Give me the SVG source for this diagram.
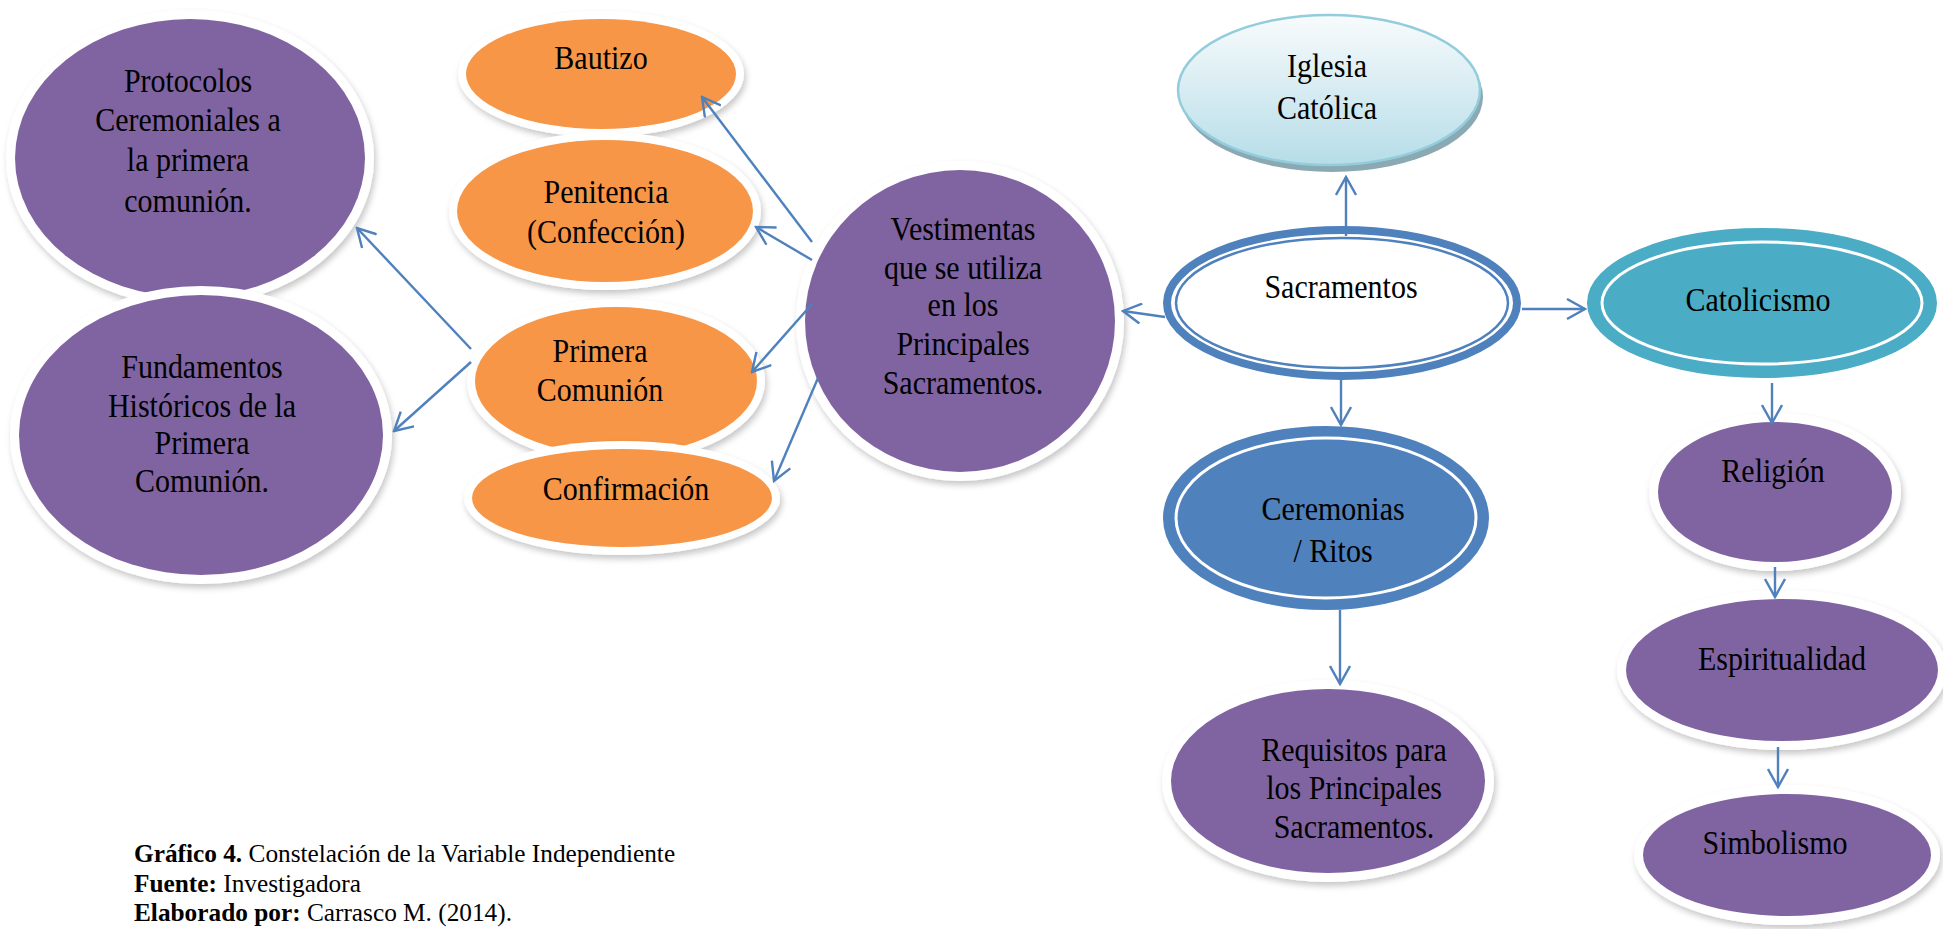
<svg xmlns="http://www.w3.org/2000/svg" width="1943" height="929" viewBox="0 0 1943 929">
<defs>
<filter id="sh" x="-20%" y="-20%" width="140%" height="140%">
<feDropShadow dx="2" dy="4" stdDeviation="3" flood-color="#000" flood-opacity="0.22"/>
</filter>
<linearGradient id="ig" x1="0" y1="0" x2="0" y2="1">
<stop offset="0" stop-color="#F8FBFC"/>
<stop offset="1" stop-color="#B6DDE8"/>
</linearGradient>
<marker id="ah" viewBox="0 0 22 22" refX="20" refY="11" markerWidth="22" markerHeight="22" markerUnits="userSpaceOnUse" orient="auto">
<path d="M2,1 L20,11 L2,21" fill="none" stroke="#4F81BD" stroke-width="2.4"/>
</marker>
<style>
.t{font-family:"Liberation Serif","Times New Roman",serif;font-size:30px;fill:#000;text-anchor:middle}
.halo{fill:#fff;filter:url(#sh)}
.pur{fill:#8064A2}
.org{fill:#F79646}
.c{fill:none;stroke:#4F81BD;stroke-width:2.4;marker-end:url(#ah)}
.cap{font-family:"Liberation Serif","Times New Roman",serif;font-size:25.3px;fill:#000}
</style>
</defs>

<g id="protocolos">
<ellipse class="halo" cx="190" cy="158" rx="184" ry="148"/>
<ellipse class="pur" cx="190" cy="158" rx="175" ry="139"/>
<text class="t" transform="translate(188,92) scale(1,1.1)">Protocolos</text>
<text class="t" transform="translate(188,131) scale(1,1.1)">Ceremoniales a</text>
<text class="t" transform="translate(188,171) scale(1,1.1)">la primera</text>
<text class="t" transform="translate(188,212) scale(1,1.1)">comunión.</text>
</g>

<g id="fundamentos">
<ellipse class="halo" cx="201" cy="435" rx="191" ry="149"/>
<ellipse class="pur" cx="201" cy="435" rx="182" ry="140"/>
<text class="t" transform="translate(202,378) scale(1,1.1)">Fundamentos</text>
<text class="t" transform="translate(202,417) scale(1,1.1)">Históricos de la</text>
<text class="t" transform="translate(202,454) scale(1,1.1)">Primera</text>
<text class="t" transform="translate(202,492) scale(1,1.1)">Comunión.</text>
</g>

<g id="bautizo">
<ellipse class="halo" cx="601" cy="74" rx="143" ry="63"/>
<ellipse class="org" cx="601" cy="74" rx="135" ry="55"/>
<text class="t" transform="translate(601,69) scale(1,1.1)">Bautizo</text>
</g>

<g id="penitencia">
<ellipse class="halo" cx="605" cy="211" rx="156" ry="79"/>
<ellipse class="org" cx="605" cy="211" rx="148" ry="71"/>
<text class="t" transform="translate(606,203) scale(1,1.1)">Penitencia</text>
<text class="t" transform="translate(606,243) scale(1,1.1)">(Confección)</text>
</g>

<g id="primera">
<ellipse class="halo" cx="616" cy="381" rx="149" ry="82"/>
<ellipse class="org" cx="616" cy="381" rx="141" ry="74"/>
<text class="t" transform="translate(600,362) scale(1,1.1)">Primera</text>
<text class="t" transform="translate(600,401) scale(1,1.1)">Comunión</text>
</g>

<g id="confirmacion">
<ellipse class="halo" cx="622" cy="498" rx="158" ry="57"/>
<ellipse class="org" cx="622" cy="498" rx="150" ry="49"/>
<text class="t" transform="translate(626,500) scale(1,1.1)">Confirmación</text>
</g>

<g id="vestimentas">
<ellipse class="halo" cx="960" cy="321" rx="164" ry="160"/>
<ellipse class="pur" cx="960" cy="321" rx="155" ry="151"/>
<text class="t" transform="translate(963,240) scale(1,1.1)">Vestimentas</text>
<text class="t" transform="translate(963,279) scale(1,1.1)">que se utiliza</text>
<text class="t" transform="translate(963,316) scale(1,1.1)">en los</text>
<text class="t" transform="translate(963,355) scale(1,1.1)">Principales</text>
<text class="t" transform="translate(963,394) scale(1,1.1)">Sacramentos.</text>
</g>

<g id="iglesia">
<ellipse cx="1332" cy="97" rx="151" ry="75" fill="#8AA9B2"/>
<ellipse cx="1329" cy="90" rx="151" ry="75" fill="url(#ig)" stroke="#93CDDD" stroke-width="2.5"/>
<text class="t" transform="translate(1327,77) scale(1,1.1)">Iglesia</text>
<text class="t" transform="translate(1327,119) scale(1,1.1)">Católica</text>
</g>

<g id="sacramentos">
<ellipse cx="1342" cy="303" rx="175" ry="73" fill="#fff" stroke="#4F81BD" stroke-width="8"/>
<ellipse cx="1342" cy="303" rx="166" ry="65" fill="none" stroke="#4F81BD" stroke-width="2.5"/>
<text class="t" transform="translate(1341,298) scale(1,1.1)">Sacramentos</text>
</g>

<g id="catolicismo">
<ellipse cx="1762" cy="303" rx="170" ry="70" fill="#4BACC6" stroke="#4BACC6" stroke-width="10"/>
<ellipse cx="1762" cy="303" rx="160" ry="61" fill="none" stroke="#fff" stroke-width="3"/>
<text class="t" transform="translate(1758,311) scale(1,1.1)">Catolicismo</text>
</g>

<g id="ceremonias">
<ellipse cx="1326" cy="518" rx="159" ry="88" fill="#4F81BD" stroke="#4F81BD" stroke-width="8"/>
<ellipse cx="1326" cy="518" rx="150" ry="80" fill="none" stroke="#fff" stroke-width="3"/>
<text class="t" transform="translate(1333,520) scale(1,1.1)">Ceremonias</text>
<text class="t" transform="translate(1333,562) scale(1,1.1)">/ Ritos</text>
</g>

<g id="requisitos">
<ellipse class="halo" cx="1328" cy="781" rx="166" ry="101"/>
<ellipse class="pur" cx="1328" cy="781" rx="157" ry="92"/>
<text class="t" transform="translate(1354,761) scale(1,1.1)">Requisitos para</text>
<text class="t" transform="translate(1354,799) scale(1,1.1)">los Principales</text>
<text class="t" transform="translate(1354,838) scale(1,1.1)">Sacramentos.</text>
</g>

<g id="religion">
<ellipse class="halo" cx="1775" cy="492" rx="126" ry="79"/>
<ellipse class="pur" cx="1775" cy="492" rx="117" ry="70"/>
<text class="t" transform="translate(1773,482) scale(1,1.1)">Religión</text>
</g>

<g id="espiritualidad">
<ellipse class="halo" cx="1782" cy="670" rx="165" ry="80"/>
<ellipse class="pur" cx="1782" cy="670" rx="156" ry="71"/>
<text class="t" transform="translate(1782,670) scale(1,1.1)">Espiritualidad</text>
</g>

<g id="simbolismo">
<ellipse class="halo" cx="1787" cy="855" rx="153" ry="70"/>
<ellipse class="pur" cx="1787" cy="855" rx="144" ry="61"/>
<text class="t" transform="translate(1775,854) scale(1,1.1)">Simbolismo</text>
</g>

<g id="connectors">
<line class="c" x1="1346" y1="236" x2="1346" y2="177"/>
<line class="c" x1="1522" y1="309" x2="1585" y2="309"/>
<line class="c" x1="1341" y1="380" x2="1341" y2="425"/>
<line class="c" x1="1165" y1="317" x2="1123" y2="311"/>
<line class="c" x1="1772" y1="383" x2="1772" y2="423"/>
<line class="c" x1="1775" y1="567" x2="1775" y2="597"/>
<line class="c" x1="1778" y1="747" x2="1778" y2="787"/>
<line class="c" x1="1340" y1="610" x2="1340" y2="684"/>
<line class="c" x1="812" y1="242" x2="702" y2="97"/>
<line class="c" x1="812" y1="260" x2="756" y2="227"/>
<line class="c" x1="812" y1="304" x2="752" y2="372"/>
<line class="c" x1="818" y1="378" x2="774" y2="481"/>
<line class="c" x1="471" y1="349" x2="357" y2="228"/>
<line class="c" x1="471" y1="362" x2="394" y2="431"/>
</g>

<g id="caption">
<text class="cap" x="134" y="862"><tspan font-weight="bold">Gráfico 4.</tspan> Constelación de la Variable Independiente</text>
<text class="cap" x="134" y="892"><tspan font-weight="bold">Fuente:</tspan> Investigadora</text>
<text class="cap" x="134" y="921"><tspan font-weight="bold">Elaborado por:</tspan> Carrasco M. (2014).</text>
</g>
</svg>
